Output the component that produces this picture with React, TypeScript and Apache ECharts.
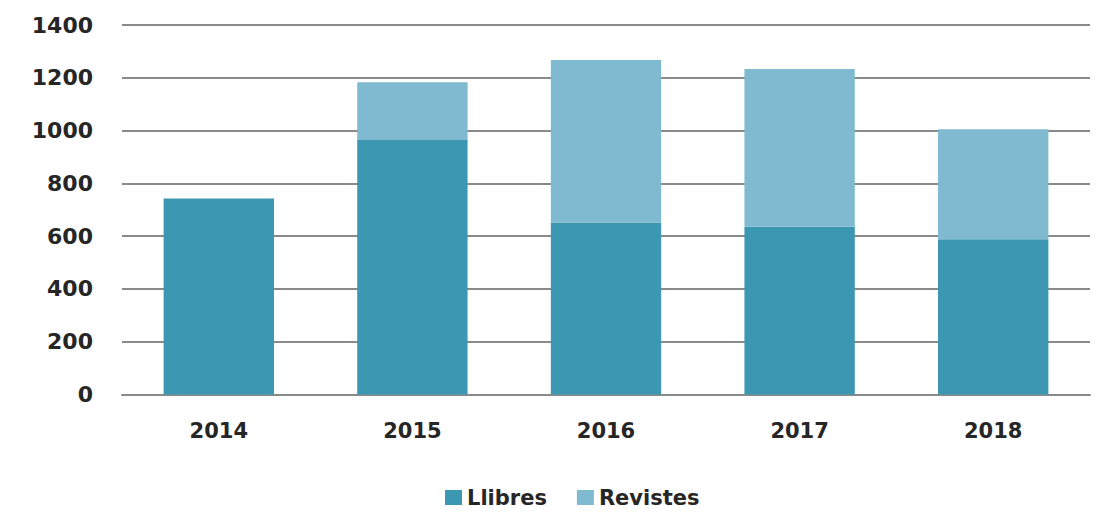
import React, { useEffect, useRef } from "react";
import * as echarts from "echarts";

const years = ["2014", "2015", "2016", "2017", "2018"];
const llibres = [743, 964, 652, 636, 588];
const revistes = [0, 219, 615, 597, 417];
const yTicks = { min: 0, max: 1400, interval: 200 };

export default function App() {
  const ref = useRef<HTMLDivElement>(null);
  useEffect(() => {
    const chart = echarts.init(ref.current!, null, { renderer: "svg" });
    const font = "'DejaVu Sans', Verdana, sans-serif";
    chart.setOption({
      animation: false,
      backgroundColor: "#ffffff",
      grid: { left: 122, right: 23, top: 25, bottom: 122.5 },
      legend: {
        top: 482,
        left: 440,
        itemWidth: 17,
        itemHeight: 15,
        itemGap: 30,
        icon: "rect",
        textStyle: { fontFamily: font, fontSize: 21, color: "#262626", fontWeight: "bold" },
        data: ["Llibres", "Revistes"],
      },
      xAxis: {
        type: "category",
        data: years,
        axisLine: { lineStyle: { color: "#8a8a8a", width: 2 } },
        axisTick: { show: false },
        axisLabel: {
          fontFamily: font,
          fontSize: 21,
          fontWeight: "bold",
          color: "#262626",
          margin: 26,
        },
      },
      yAxis: {
        type: "value",
        min: yTicks.min,
        max: yTicks.max,
        interval: yTicks.interval,
        axisLine: { show: false },
        axisTick: { show: false },
        splitLine: { lineStyle: { color: "#8a8a8a", width: 2 } },
        axisLabel: {
          fontFamily: font,
          fontSize: 22,
          fontWeight: "bold",
          color: "#262626",
          margin: 29,
          formatter: (v: number) => String(v),
        },
      },
      series: [
        {
          name: "Llibres",
          type: "bar",
          stack: "total",
          data: llibres,
          barWidth: "57%",
          itemStyle: { color: "#3c97b2" },
        },
        {
          name: "Revistes",
          type: "bar",
          stack: "total",
          data: revistes,
          barWidth: "57%",
          itemStyle: { color: "#7fbad1" },
        },
      ],
    });
    return () => chart.dispose();
  }, []);
  return <div ref={ref} style={{ width: 1113, height: 517, position: "absolute", left: 0, top: 0 }} />;
}
